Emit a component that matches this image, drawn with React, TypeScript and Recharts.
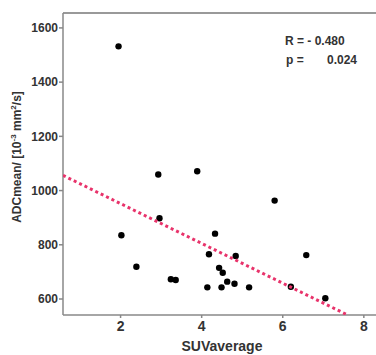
import { ScatterChart, Scatter, XAxis, YAxis, ReferenceLine } from 'recharts'

// SUVaverage vs ADCmean
const suv = [1.95, 2.93, 3.89, 5.8, 2.96, 2.02, 4.33, 4.18, 4.84, 6.58, 2.39, 4.43, 4.52, 3.24, 3.36, 4.63, 4.81, 4.14, 4.49, 5.17, 6.2, 7.05]
const adc = [1532, 1059, 1071, 963, 898, 835, 841, 765, 759, 762, 719, 715, 697, 673, 670, 664, 656, 643, 643, 643, 645, 603]

// fit line endpoints
const fitX = [0.58, 7.6]
const fitY = [1056, 541]

const xTicks = [2, 4, 6, 8]
const yTicks = [600, 800, 1000, 1200, 1400, 1600]

const points = suv.map((x, i) => ({ x, y: adc[i] }))
const fit = fitX.map((x, i) => ({ x, y: fitY[i] }))

const font = 'Liberation Sans, Arial, sans-serif'
const yTickStyle = { fontSize: 12, fontWeight: 700, fill: '#333', fontFamily: font }
const xTickStyle = { fontSize: 14, fontWeight: 700, fill: '#333', fontFamily: font }

const YLabel = () => (
  <text
    transform="translate(21,157) rotate(-90)"
    textAnchor="middle"
    style={{ fontSize: 12, fontWeight: 700, fill: '#333', fontFamily: font }}
  >
    ADCmean/ [10<tspan dy={-5} fontSize={8}>-3</tspan><tspan dy={5}> mm</tspan><tspan dy={-5} fontSize={8}>2</tspan><tspan dy={5}>/s]</tspan>
  </text>
)

const Dot = (p: any) => <circle cx={p.cx} cy={p.cy} r={3.2} fill="#000" />

export default function App() {
  return (
    <div style={{ width: 376, height: 355, background: '#fff', position: 'relative' }}>
      <style>{`body{margin:0}`}</style>
      <ScatterChart width={376} height={355} margin={{ top: 13, right: 0, left: 0, bottom: 0 }}>
        <XAxis
          type="number"
          dataKey="x"
          domain={[0.58, 8.3]}
          ticks={xTicks}
          allowDataOverflow
          height={40}
          tick={xTickStyle}
          tickSize={3}
          tickMargin={3}
          stroke="#888"
          strokeWidth={1.5}
        />
        <YAxis
          type="number"
          dataKey="y"
          domain={[541, 1655]}
          ticks={yTicks}
          allowDataOverflow
          width={63}
          tick={yTickStyle}
          tickSize={4}
          tickMargin={1}
          stroke="#888"
          strokeWidth={1.5}
          label={<YLabel />}
        />
        <ReferenceLine y={1655} stroke="#999" strokeWidth={2} />
        <Scatter data={points} shape={<Dot />} isAnimationActive={false} />
        <Scatter
          data={fit}
          line={{ stroke: '#e8336b', strokeWidth: 3, strokeDasharray: '3 3' }}
          shape={() => null}
          isAnimationActive={false}
        />
        <text x={285} y={45} style={yTickStyle}>R = - 0.480</text>
        <text x={286} y={64} style={yTickStyle}>p =</text>
        <text x={357} y={64} textAnchor="end" style={yTickStyle}>0.024</text>
        <text x={222} y={351} textAnchor="middle" style={{ ...xTickStyle, fontSize: 14 }}>SUVaverage</text>
      </ScatterChart>
    </div>
  )
}
